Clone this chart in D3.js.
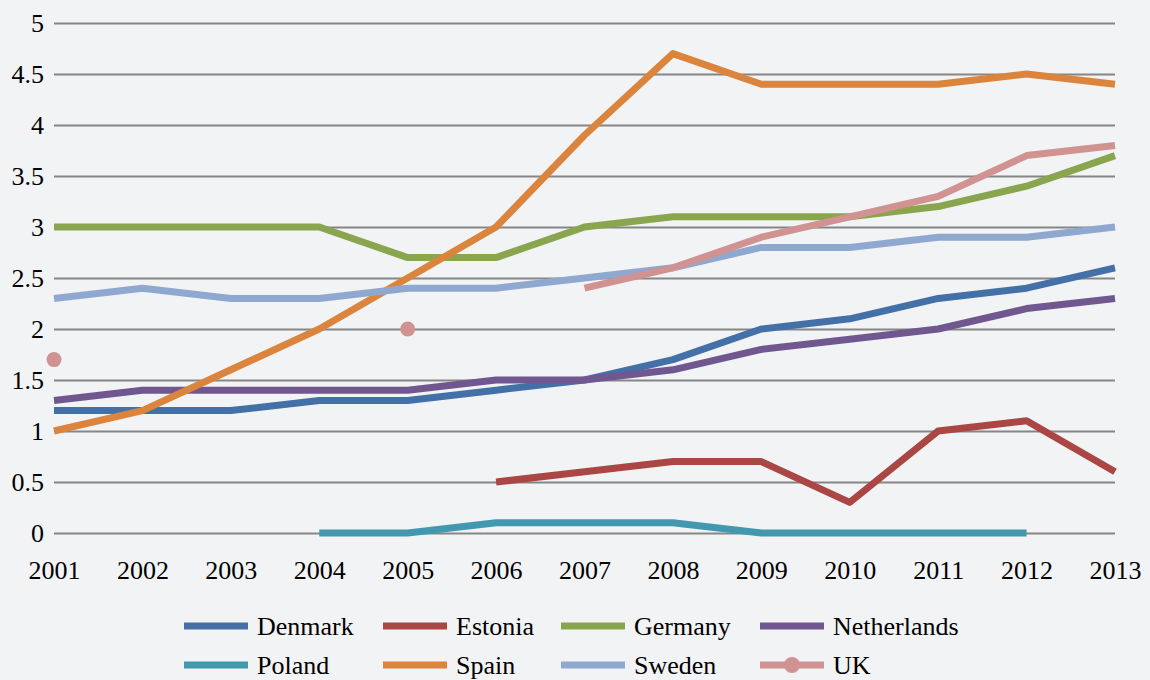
<!DOCTYPE html>
<html>
<head>
<meta charset="utf-8">
<script src="https://cdn.jsdelivr.net/npm/d3@7"></script>
</head>
<body style="margin:0;background:#f2f3f5">
<svg id="chart"></svg>
<script>
// data
let years = [2001, 2002, 2003, 2004, 2005, 2006, 2007, 2008, 2009, 2010, 2011, 2012, 2013];
let yTicks = [0, 0.5, 1, 1.5, 2, 2.5, 3, 3.5, 4, 4.5, 5];

let denmark     = [1.2, 1.2, 1.2, 1.3, 1.3, 1.4, 1.5, 1.7, 2.0, 2.1, 2.3, 2.4, 2.6];
let estonia     = [null, null, null, null, null, 0.5, 0.6, 0.7, 0.7, 0.3, 1.0, 1.1, 0.6];
let germany     = [3.0, 3.0, 3.0, 3.0, 2.7, 2.7, 3.0, 3.1, 3.1, 3.1, 3.2, 3.4, 3.7];
let netherlands = [1.3, 1.4, 1.4, 1.4, 1.4, 1.5, 1.5, 1.6, 1.8, 1.9, 2.0, 2.2, 2.3];
let poland      = [null, null, null, 0, 0, 0.1, 0.1, 0.1, 0, 0, 0, 0, null];
let spain       = [1.0, 1.2, 1.6, 2.0, 2.5, 3.0, 3.9, 4.7, 4.4, 4.4, 4.4, 4.5, 4.4];
let sweden      = [2.3, 2.4, 2.3, 2.3, 2.4, 2.4, 2.5, 2.6, 2.8, 2.8, 2.9, 2.9, 3.0];
let uk          = [1.7, null, null, null, 2.0, null, 2.4, 2.6, 2.9, 3.1, 3.3, 3.7, 3.8];

let seriesNames = ['Denmark', 'Estonia', 'Germany', 'Netherlands', 'Poland', 'Spain', 'Sweden', 'UK'];
let seriesValues = [denmark, estonia, germany, netherlands, poland, spain, sweden, uk];
let seriesColors = ['#4470a8', '#aa4643', '#89a54e', '#70578f', '#4198af', '#db843d', '#8fa8cf', '#d19392'];

// serif face like the original
let fontNames = ['Liberation Serif', 'Tinos', 'Times New Roman'];
let fontFamily = fontNames.map(f => '"' + f + '"').join(', ');

// svg size and plot area
let config = { svg: {}, margin: {}, plot: {} };
config.svg.width = 1150;
config.svg.height = 680;
config.margin.top = 23;
config.margin.right = 35;
config.margin.bottom = 147;
config.margin.left = 54;
config.plot.width = config.svg.width - config.margin.left - config.margin.right;
config.plot.height = config.svg.height - config.margin.top - config.margin.bottom;

function translate(x, y) {
  return 'translate(' + x + ',' + y + ')';
}

// same text look everywhere
function styleText(sel) {
  sel.attr('font-size', 26)
    .attr('fill', '#000')
    .attr('font-family', fontFamily)
    .style('font-family', fontFamily);
}

let svg = d3.select('#chart')
  .attr('width', config.svg.width)
  .attr('height', config.svg.height)
  .style('font-family', fontFamily);

svg.append('rect')
  .attr('width', config.svg.width)
  .attr('height', config.svg.height)
  .attr('fill', '#f2f3f5');

let xScale = d3.scalePoint()
  .domain(years)
  .range([0, config.plot.width]);

let yScale = d3.scaleLinear()
  .domain([0, 5])
  .range([config.plot.height, 0]);

let plot = svg.append('g').attr('transform', translate(config.margin.left, config.margin.top));

// grid lines
let grid = d3.axisLeft(yScale)
  .tickValues(yTicks)
  .tickSize(-config.plot.width)
  .tickFormat('');
plot.append('g')
  .attr('class', 'grid')
  .call(grid)
  .call(g => g.select('.domain').remove())
  .call(g => g.selectAll('line').attr('stroke', '#868686').attr('stroke-width', 2));

// y axis labels
let yAxis = d3.axisLeft(yScale)
  .tickValues(yTicks)
  .tickSize(0)
  .tickPadding(10)
  .tickFormat(d => String(d));
plot.append('g')
  .call(yAxis)
  .attr('font-family', fontFamily)
  .call(g => g.select('.domain').remove())
  .call(g => g.selectAll('text').call(styleText));

// x axis labels
let xAxis = d3.axisBottom(xScale)
  .tickSize(0)
  .tickPadding(28);
plot.append('g')
  .attr('transform', translate(0, config.plot.height))
  .call(xAxis)
  .attr('font-family', fontFamily)
  .call(g => g.select('.domain').remove())
  .call(g => g.selectAll('text').call(styleText));

// lines
let line = d3.line()
  .defined(d => d.v !== null)
  .x(d => xScale(d.year))
  .y(d => yScale(d.v));

seriesValues.forEach((vals, i) => {
  let pts = vals.map((v, j) => ({ year: years[j], v: v }));
  plot.append('path')
    .datum(pts)
    .attr('fill', 'none')
    .attr('stroke', seriesColors[i])
    .attr('stroke-width', 7)
    .attr('stroke-linejoin', 'round')
    .attr('d', line);

  // isolated points show as markers for UK
  if (seriesNames[i] === 'UK') {
    let lone = pts.filter((d, j) => d.v !== null &&
      (j === 0 || pts[j - 1].v === null) &&
      (j === pts.length - 1 || pts[j + 1].v === null));
    plot.selectAll('.uk-dot')
      .data(lone)
      .enter().append('circle')
      .attr('class', 'uk-dot')
      .attr('cx', d => xScale(d.year))
      .attr('cy', d => yScale(d.v))
      .attr('r', 7.5)
      .attr('fill', seriesColors[i]);
  }
});

// legend
let legendCols = [184, 383, 561, 760];
let legendRows = [626, 665];
let legend = svg.append('g').attr('class', 'legend');
seriesNames.forEach((name, i) => {
  let x = legendCols[i % 4];
  let y = legendRows[Math.floor(i / 4)];
  let item = legend.append('g').attr('transform', translate(x, y));
  item.append('line')
    .attr('x1', 0).attr('x2', 64)
    .attr('y1', 0).attr('y2', 0)
    .attr('stroke', seriesColors[i])
    .attr('stroke-width', 7);
  if (name === 'UK') {
    item.append('circle')
      .attr('cx', 32).attr('cy', 0).attr('r', 8)
      .attr('fill', seriesColors[i]);
  }
  item.append('text')
    .attr('x', 73)
    .attr('y', 9)
    .text(name)
    .call(styleText);
});
</script>
</body>
</html>
